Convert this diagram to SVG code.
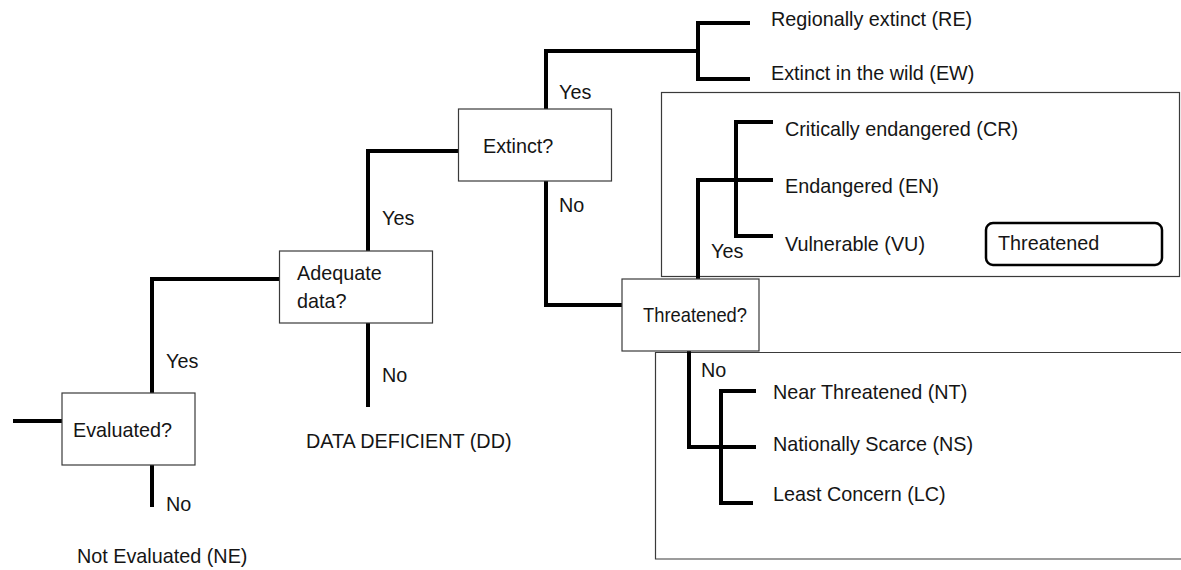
<svg xmlns="http://www.w3.org/2000/svg" width="1181" height="570" viewBox="0 0 1181 570">
<style>
text{font-family:"Liberation Sans",Arial,sans-serif;font-size:19.8px;fill:#151515}
.box{fill:#fff;stroke:#3a3a3a;stroke-width:1.2}
.panel{fill:none;stroke:#3a3a3a;stroke-width:1.2}
.con{fill:none;stroke:#000;stroke-width:4;stroke-linejoin:miter;stroke-linecap:butt}
.legend{fill:#fff;stroke:#000;stroke-width:2.5}
</style>
<rect width="1181" height="570" fill="#fff"/>
<g id="panel-threatened"><rect class="panel" x="661.5" y="92.5" width="518" height="184"/></g>
<g id="panel-not-threatened"><path class="panel" d="M1181 352.5 H655.5 V559 H1181"/></g>
<g id="connectors">
<path class="con" d="M13 421 H62"/>
<path class="con" d="M152 393 V279 H280"/>
<path class="con" d="M152 465 V507"/>
<path class="con" d="M368 251 V151 H458"/>
<path class="con" d="M368 323 V407"/>
<path class="con" d="M546 109 V51 H698"/>
<path class="con" d="M750 23 H698 V79 H750"/>
<path class="con" d="M546 181 V305 H622"/>
<path class="con" d="M698 279 V180 H773"/>
<path class="con" d="M773 122 H736 V236 H773"/>
<path class="con" d="M689 351 V447 H756"/>
<path class="con" d="M756 391 H721 V503 H753"/>
<text x="166" y="368">Yes</text>
<text x="166" y="511">No</text>
<text x="382" y="225">Yes</text>
<text x="382" y="382">No</text>
<text x="559" y="99">Yes</text>
<text x="559" y="212">No</text>
<text x="711" y="258">Yes</text>
<text x="701" y="377">No</text>
</g>
<g id="node-evaluated"><rect class="box" x="62" y="393" width="133" height="72"/><text x="73" y="437">Evaluated?</text></g>
<g id="node-adequate"><rect class="box" x="279.5" y="251" width="153" height="72"/><text x="297" y="280">Adequate</text><text x="297" y="308">data?</text></g>
<g id="node-extinct"><rect class="box" x="458.5" y="109" width="153" height="72"/><text x="483" y="153">Extinct?</text></g>
<g id="node-threatened"><rect class="box" x="622" y="279" width="137" height="72"/><text x="643" y="322" textLength="104" lengthAdjust="spacingAndGlyphs">Threatened?</text></g>
<g id="node-ne"><text x="77" y="563">Not Evaluated (NE)</text></g>
<g id="node-dd"><text x="306" y="448">DATA DEFICIENT (DD)</text></g>
<g id="node-re"><text x="771" y="26">Regionally extinct (RE)</text></g>
<g id="node-ew"><text x="771" y="80">Extinct in the wild (EW)</text></g>
<g id="node-cr"><text x="785" y="136">Critically endangered (CR)</text></g>
<g id="node-en"><text x="785" y="193">Endangered (EN)</text></g>
<g id="node-vu"><text x="785" y="251">Vulnerable (VU)</text></g>
<g id="node-legend"><rect class="legend" x="986" y="223" width="176" height="42" rx="7"/><text x="998" y="250">Threatened</text></g>
<g id="node-nt"><text x="773" y="399">Near Threatened (NT)</text></g>
<g id="node-ns"><text x="773" y="451">Nationally Scarce (NS)</text></g>
<g id="node-lc"><text x="773" y="501">Least Concern (LC)</text></g>
</svg>
